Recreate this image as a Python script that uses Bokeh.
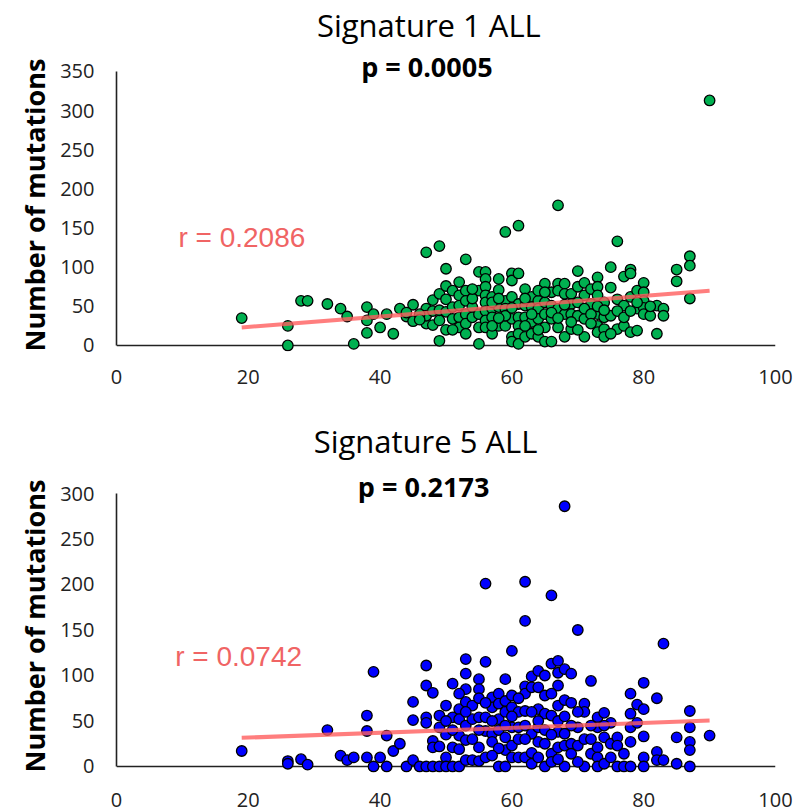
from bokeh.plotting import figure
from bokeh.models import Range1d, Label, FixedTicker, ColumnDataSource, Span, Title
from bokeh.layouts import column
from bokeh.embed import file_html
from bokeh.resources import INLINE

# ---------------- data ----------------
x_ticks = [0, 20, 40, 60, 80, 100]
sig1_y_ticks = [0, 50, 100, 150, 200, 250, 300, 350]
sig5_y_ticks = [0, 50, 100, 150, 200, 250, 300]

sig1_age = [19, 26, 26, 28, 29, 32, 34, 35, 36,
            38, 38, 38, 39, 40, 41, 42, 43, 44, 45, 45,
            47, 47, 47, 47, 48, 48, 48, 49, 49, 49, 49, 49,
            50, 50, 50, 50, 50, 51, 51, 51, 52, 52, 52, 52, 52,
            53, 53, 53, 53, 53, 54, 54, 55, 55, 55, 55, 55,
            56, 56, 56, 56, 56, 56, 56, 56, 57, 57, 57, 57,
            58, 58, 58, 58, 59, 59, 59, 59, 60, 60, 60, 60, 60, 60,
            61, 61, 61, 61, 61, 61, 61, 62, 62, 62, 62, 63, 63, 63, 63,
            64, 64, 64, 64, 65, 65, 65, 65, 65, 66, 66, 66, 66,
            67, 67, 67, 67, 67, 68, 68, 68, 68, 69, 69, 69, 69,
            70, 70, 70, 71, 71, 71, 71, 72, 72,
            73, 73, 73, 73, 73, 73, 74, 74, 74, 74, 75, 75, 75,
            76, 76, 76, 77, 77, 77, 78, 78, 78, 78, 79, 79, 79,
            80, 80, 80, 80, 82, 82, 83, 83, 85, 85, 87, 87, 87, 90,
            54, 54, 57, 58, 59, 60, 62, 63, 64, 65, 66, 68, 69, 70, 71, 72,
            73, 74, 76, 77, 78, 79, 80, 81, 46, 46, 44, 51, 53, 57, 58, 62,
            64, 67, 70, 72, 75, 81]
sig1_mut = [35, 25, 0, 57, 57, 53, 47, 37, 2,
            49, 32, 16, 40, 23, 40, 15, 47, 37, 52, 31,
            119, 47, 28, 38, 58, 26, 44, 127, 66, 6, 32, 45,
            98, 76, 59, 20, 43, 70, 49, 34, 81, 64, 51, 36, 23,
            110, 70, 57, 40, 28, 49, 36, 94, 70, 40, 23, 2,
            94, 85, 75, 64, 55, 44, 32, 23, 62, 47, 36, 15,
            85, 71, 49, 25, 145, 57, 47, 25, 92, 83, 62, 34, 11, 5,
            153, 92, 53, 36, 25, 15, 2, 72, 51, 36, 11, 62, 49, 30, 15,
            57, 47, 34, 11, 79, 55, 40, 23, 5, 68, 51, 34, 5,
            179, 79, 70, 47, 23, 79, 66, 40, 11, 66, 53, 40, 21,
            95, 75, 38, 80, 64, 34, 11, 72, 53,
            87, 75, 64, 40, 25, 17, 55, 36, 21, 11, 100, 74, 38,
            133, 59, 21, 88, 51, 25, 97, 92, 62, 17, 70, 47, 19,
            80, 68, 57, 48, 51, 15, 47, 38, 97, 82, 114, 102, 60, 313,
            60, 72, 55, 60, 38, 48, 60, 40, 70, 68, 42, 52, 30, 55, 47, 40,
            50, 45, 44, 36, 44, 55, 40, 38, 40, 33, 42, 20, 15, 25, 35, 25,
            20, 35, 20, 28, 15, 50]
sig1_trend_age = [19, 90]
sig1_trend_mut = [23, 70]

sig5_age = [19, 26, 26, 28, 29, 32, 34, 35, 36,
            38, 38, 38, 39, 39, 40, 41, 41, 42, 43, 44,
            45, 45, 45, 46, 47, 47, 47, 47, 47, 48, 48, 48, 48,
            49, 49, 49, 49, 50, 50, 50, 50, 51, 51, 51, 51,
            52, 52, 52, 52, 52, 53, 53, 53, 53, 53, 53, 53,
            54, 54, 54, 55, 55, 55, 55, 55, 55, 56, 56, 56, 56, 56,
            57, 57, 57, 57, 58, 58, 58, 58, 58, 59, 59, 59, 59, 59, 59,
            60, 60, 60, 60, 60, 60, 61, 61, 61,
            62, 62, 62, 62, 62, 62, 62, 63, 63, 63, 63,
            64, 64, 64, 64, 64, 65, 65, 65, 65, 65, 66, 66, 66, 66, 66,
            67, 67, 67, 67, 67, 67, 68, 68, 68, 68, 68, 68,
            69, 69, 69, 70, 70, 70, 71, 71, 71, 72, 72,
            73, 73, 73, 73, 73, 74, 74, 74, 75, 75, 76, 76, 76, 77, 77,
            78, 78, 78, 78, 78, 79, 79, 80, 80, 80, 80, 80,
            82, 82, 82, 83, 83, 85, 85, 87, 87, 87, 87, 87, 90,
            54, 56, 57, 58, 60, 61, 61, 63, 63, 64, 65, 66, 66, 67, 68, 69,
            69, 70, 71, 72, 74, 75, 50, 51, 52, 53, 55, 57, 59, 62, 64, 67,
            70, 72]
sig5_mut = [17, 6, 3, 8, 2, 40, 12, 7, 10,
            56, 39, 10, 104, 0, 10, 34, 0, 17, 25, 0,
            71, 51, 7, 0, 111, 89, 54, 48, 0, 81, 28, 21, 0,
            56, 43, 22, 0, 67, 35, 10, 0, 91, 54, 21, 0,
            63, 52, 34, 19, 0, 118, 102, 85, 71, 45, 29, 7,
            67, 52, 7, 96, 85, 75, 54, 21, 6, 201, 115, 54, 39, 10,
            76, 65, 36, 27, 80, 69, 52, 40, 0, 96, 72, 60, 32, 18, 0,
            127, 78, 65, 43, 23, 10, 60, 43, 10,
            203, 160, 88, 80, 61, 45, 10, 99, 87, 36, 3,
            105, 87, 63, 43, 27, 100, 78, 58, 25, 0, 188, 113, 56, 14, 5,
            116, 103, 89, 67, 38, 21, 286, 107, 73, 36, 23, 0,
            102, 25, 14, 150, 43, 23, 69, 60, 0, 94, 14,
            54, 43, 21, 10, 0, 59, 32, 3, 48, 25, 32, 23, 0, 14, 0,
            80, 58, 43, 27, 0, 68, 48, 92, 63, 33, 10, 0,
            75, 16, 7, 135, 7, 32, 3, 61, 43, 27, 18, 0, 34,
            30, 70, 50, 20, 55, 75, 30, 60, 15, 10, 40, 35, 80, 50, 55, 45,
            70, 60, 30, 45, 45, 10, 50, 40, 80, 60, 40, 12, 45, 30, 50, 8,
            5, 30]
sig5_trend_age = [19, 90]
sig5_trend_mut = [31.5, 50.5]

y_label = "Number of mutations"


def make_chart(title, ptext, rtext, ages, muts, t_age, t_mut, yticks, color,
               height, borders, yrange, title_pos, p_pos, r_pos, x_standoff):
    ymax = yticks[-1]
    p = figure(width=800, height=height, output_backend="svg", toolbar_location=None,
               x_range=Range1d(0, 100), y_range=Range1d(*yrange),
               min_border_left=borders[0], min_border_right=borders[1],
               min_border_top=borders[2], min_border_bottom=borders[3])
    p.outline_line_color = None
    p.xgrid.visible = False
    p.ygrid.visible = False
    p.background_fill_color = "white"

    # x axis line at y = 0 (drawn under the points)
    p.add_layout(Span(location=0, dimension="width", line_color="#222222",
                      line_width=1.6, level="underlay"))

    src = ColumnDataSource(dict(age=ages, mut=muts))
    p.scatter("age", "mut", source=src, size=10.5, fill_color=color,
              line_color="black", line_width=1.3)
    p.line(t_age, t_mut, line_color="#FF5E5E", line_alpha=0.8, line_width=4)

    p.xaxis.ticker = FixedTicker(ticks=x_ticks)
    p.yaxis.ticker = FixedTicker(ticks=yticks)
    p.yaxis.bounds = (0, ymax)
    p.xaxis.axis_line_color = None
    p.yaxis.axis_line_color = "#222222"
    p.yaxis.axis_line_width = 1.6
    for ax in (p.xaxis, p.yaxis):
        ax.major_tick_line_color = None
        ax.minor_tick_line_color = None
        ax.major_tick_out = 0
        ax.major_tick_in = 0
        ax.minor_tick_out = 0
        ax.major_label_text_font = "Open Sans"
        ax.major_label_text_font_size = "20px"
        ax.major_label_text_color = "#222222"
    p.yaxis.major_label_standoff = 22
    p.xaxis.major_label_standoff = x_standoff

    # y axis title, starting at the bottom of the plot area
    p.add_layout(Title(text=y_label, align="left", offset=0,
                       text_font="Open Sans", text_font_size="27px",
                       text_font_style="bold", text_color="black",
                       standoff=10), "left")

    p.add_layout(Label(x=title_pos[0], y=title_pos[1], text=title, text_align="center",
                       text_baseline="middle", text_font="Open Sans",
                       text_font_size="31px", text_color="black"))
    p.add_layout(Label(x=p_pos[0], y=p_pos[1], text=ptext, text_align="center",
                       text_baseline="middle", text_font="Open Sans",
                       text_font_size="27px", text_font_style="bold", text_color="black"))
    p.add_layout(Label(x=r_pos[0], y=r_pos[1], text=rtext, text_align="left",
                       text_baseline="middle", text_font="Liberation Sans",
                       text_font_size="28px", text_color="#F06464"))
    return p


p1 = make_chart("Signature 1 ALL", "p = 0.0005", "r = 0.2086", sig1_age, sig1_mut,
                sig1_trend_age, sig1_trend_mut, sig1_y_ticks, "#00B050",
                398, (113, 25, 0, 47), (-7.7, 440.7), (47.4, 410), (47.1, 356.5),
                (9.4, 138), 18)
p2 = make_chart("Signature 5 ALL", "p = 0.2173", "r = 0.0742", sig5_age, sig5_mut,
                sig5_trend_age, sig5_trend_mut, sig5_y_ticks, "#0000FF",
                413, (116, 21, 0, 39), (-6.6, 404.4), (46.9, 358.2), (46.6, 307.5),
                (8.9, 120.9), 20)

layout = column(p1, p2, spacing=0)
open("out.html", "w").write(file_html(layout, INLINE))
